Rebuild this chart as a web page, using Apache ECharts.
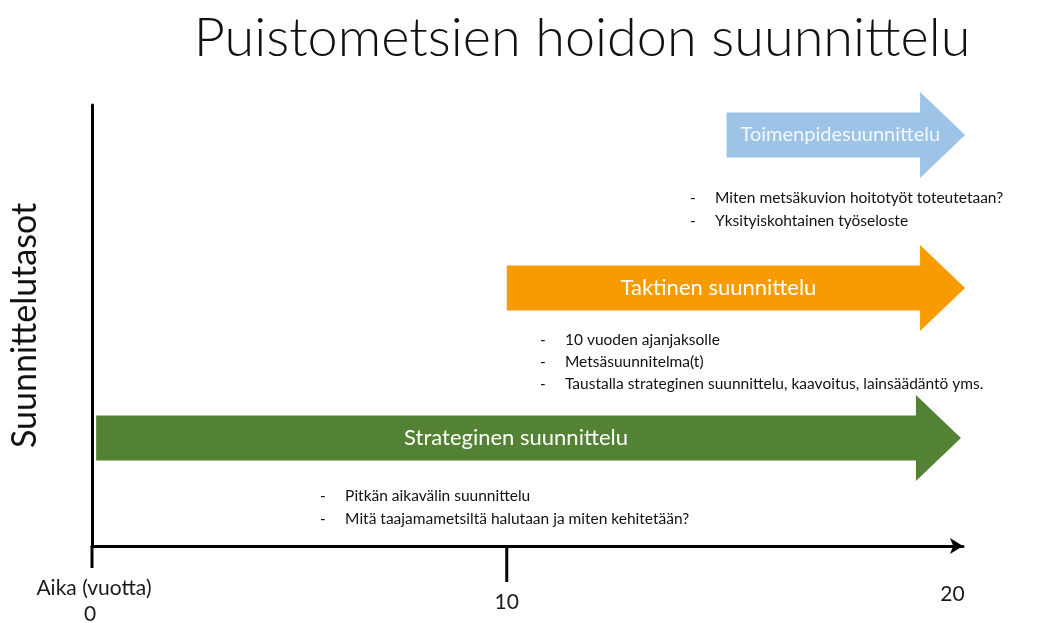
<!DOCTYPE html>
<html>
<head>
<meta charset="utf-8">
<script src="https://cdn.jsdelivr.net/npm/echarts@6/dist/echarts.min.js"></script>
<style>html,body{margin:0;padding:0;background:#fff;}#c{width:1049px;height:623px;}</style>
</head>
<body>
<div id="c"></div>
<script>
// ---- data ----
const titleText = 'Puistometsien hoidon suunnittelu';
const yAxisName = 'Suunnittelutasot';
const xAxisName = 'Aika (vuotta)';
const levelNames = ['Toimenpidesuunnittelu', 'Taktinen suunnittelu', 'Strateginen suunnittelu'];
const levelStart = [15.3, 10, 0.1];     // years
const levelEnd = [21.05, 21.05, 20.95];   // years (arrow tip)
const levelY = [9.32, 5.85, 2.45];        // vertical level
const bulletTexts = [
  'Miten metsäkuvion hoitotyöt toteutetaan?',
  'Yksityiskohtainen työseloste',
  '10 vuoden ajanjaksolle',
  'Metsäsuunnitelma(t)',
  'Taustalla strateginen suunnittelu, kaavoitus, lainsäädäntö yms.',
  'Pitkän aikavälin suunnittelu',
  'Mitä taajamametsiltä halutaan ja miten kehitetään?'
];
const bulletX = [14.42, 14.42, 10.8, 10.8, 10.8, 5.5, 5.5];
const bulletY = [7.89, 7.37, 4.67, 4.17, 3.67, 1.13, 0.61];
const tickValues = [0, 10, 20];
const tickLabels = ['0', '10', '20'];

// ---- styles ----
const arrowColors = ['#9DC3E6', '#F79B00', '#548235'];
const arrowTextColors = ['rgba(255,255,255,0.88)', '#ffffff', '#ffffff'];
const arrowFontSize = [20, 22, 22];
const arrowTextShift = [17, 5, 10];
const tickLen = [22, 36, 0];
const tickLabelOffset = [[-2, 68], [0, 56], [31, 48]];
const FONT = 'Lato, "Open Sans", sans-serif';

const chart = echarts.init(document.getElementById('c'));

const arrowData = levelNames.map((n, i) => [levelStart[i], levelEnd[i], levelY[i], n]);
const bulletData = bulletTexts.map((t, i) => [bulletX[i], bulletY[i], t]);
const tickData = tickValues.map((v, i) => [v, 0, tickLabels[i]]);

chart.setOption({
  animation: false,
  backgroundColor: '#ffffff',
  title: {
    text: titleText,
    left: 577,
    top: 7,
    textAlign: 'center',
    textStyle: { fontFamily: FONT, fontWeight: 300, fontSize: 54, color: '#111' }
  },
  grid: { left: 92, right: 86, top: 105, bottom: 77, outerBoundsMode: 'none', containLabel: false },
  xAxis: {
    type: 'value', min: 0, max: 21,
    axisLine: { show: true, symbol: ['none', 'arrow'], symbolSize: [12, 13], lineStyle: { color: '#000', width: 3 } },
    axisTick: { show: false }, axisLabel: { show: false }, splitLine: { show: false }
  },
  yAxis: {
    type: 'value', min: 0, max: 10,
    name: yAxisName, nameLocation: 'middle', nameGap: 50, nameRotate: 90,
    nameTextStyle: { fontFamily: FONT, fontSize: 34, color: '#111' },
    axisLine: { show: true, lineStyle: { color: '#000', width: 3 } },
    axisTick: { show: false }, axisLabel: { show: false }, splitLine: { show: false }
  },
  series: [
    {
      type: 'custom', clip: false, data: arrowData,
      renderItem: function (params, api) {
        const i = params.dataIndex;
        const s = api.coord([api.value(0), api.value(2)]);
        const e = api.coord([api.value(1), api.value(2)]);
        const y = s[1], bh = 22.5, hh = 43, hl = 45;
        const hx = e[0] - hl;
        return {
          type: 'group',
          children: [
            { type: 'polygon', shape: { points: [[s[0], y - bh], [hx, y - bh], [hx, y - hh], [e[0], y], [hx, y + hh], [hx, y + bh], [s[0], y + bh]] },
              style: { fill: arrowColors[i] } },
            { type: 'text', style: { x: (s[0] + hx) / 2 + arrowTextShift[i], y: y, text: levelNames[i], textAlign: 'center', textVerticalAlign: 'middle',
              fill: arrowTextColors[i], font: arrowFontSize[i] + 'px ' + FONT } }
          ]
        };
      }
    },
    {
      type: 'custom', clip: false, data: bulletData,
      renderItem: function (params, api) {
        const p = api.coord([api.value(0), api.value(1)]);
        return {
          type: 'group',
          children: [
            { type: 'text', style: { x: p[0], y: p[1], text: '-', textAlign: 'left', textVerticalAlign: 'middle', fill: '#111', font: '15.5px ' + FONT } },
            { type: 'text', style: { x: p[0] + 25, y: p[1], text: bulletTexts[params.dataIndex], textAlign: 'left', textVerticalAlign: 'middle', fill: '#111', font: '15.5px ' + FONT } }
          ]
        };
      }
    },
    {
      type: 'custom', clip: false, data: tickData,
      renderItem: function (params, api) {
        const i = params.dataIndex;
        const p = api.coord([api.value(0), api.value(1)]);
        const ch = [];
        if (tickLen[i] > 0) ch.push({ type: 'line', shape: { x1: p[0], y1: p[1], x2: p[0], y2: p[1] + tickLen[i] }, style: { stroke: '#000', lineWidth: 3 } });
        ch.push({ type: 'text', style: { x: p[0] + tickLabelOffset[i][0], y: p[1] + tickLabelOffset[i][1], text: tickLabels[i], textAlign: 'center', textVerticalAlign: 'middle', fill: '#1a1a1a', font: '21px ' + FONT } });
        if (i === 0) ch.push({ type: 'text', style: { x: p[0] + 2, y: p[1] + 42, text: xAxisName, textAlign: 'center', textVerticalAlign: 'middle', fill: '#1a1a1a', font: '21px ' + FONT } });
        return { type: 'group', children: ch };
      }
    }
  ]
});
</script>
</body>
</html>
